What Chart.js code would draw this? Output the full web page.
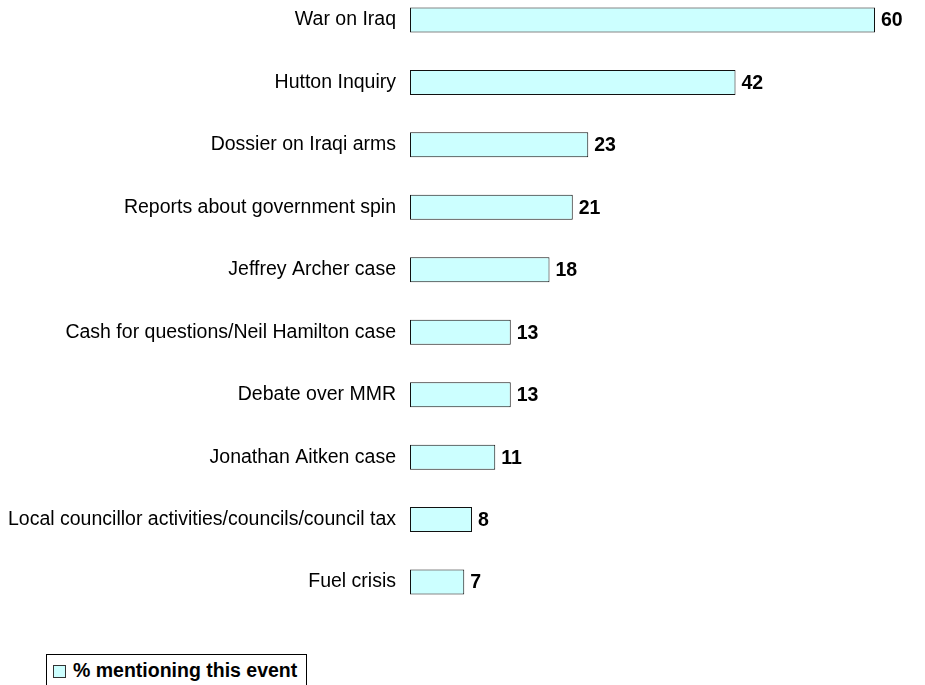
<!DOCTYPE html>
<html>
<head>
<meta charset="utf-8">
<script src="https://cdn.jsdelivr.net/npm/chart.js@4"></script>
<style>
  html, body { margin: 0; padding: 0; background: #fff; overflow: hidden; }
  body { width: 925px; height: 685px; position: relative; font-family: "Liberation Sans", Arial, sans-serif; }
  #wrap { position: absolute; left: 0; top: -37px; width: 925px; height: 676px; }
  #legend { position: absolute; left: 46px; top: 654px; width: 261px; height: 45px; border: 1px solid #000; box-sizing: border-box; }
  #legend .box { position: absolute; left: 6px; top: 10px; width: 13px; height: 13px; background: #CCFFFF; border: 1px solid #333; box-sizing: border-box; }
  #legend .txt { position: absolute; left: 26px; top: 5px; line-height: 20px; font-weight: bold; font-size: 19.5px; white-space: pre; color: #000; }
</style>
</head>
<body>
<div id="wrap"><canvas id="chart"></canvas></div>
<div id="legend"></div>
<script>
// 데이터
const categories = [
    'War on Iraq',
    'Hutton Inquiry',
    'Dossier on Iraqi arms',
    'Reports about government spin',
    'Jeffrey Archer case',
    'Cash for questions/Neil Hamilton case',
    'Debate over MMR',
    'Jonathan Aitken case',
    'Local councillor activities/councils/council tax',
    'Fuel crisis'
];
const mentionValues = [60, 42, 23, 21, 18, 13, 13, 11, 8, 7];
const seriesLabel = '% mentioning this event';

const FONT = '"Liberation Sans", Arial, sans-serif';

// 막대 끝에 값 표시
const valueLabels = {
    id: 'valueLabels',
    afterDatasetsDraw(chart) {
        const ctx = chart.ctx;
        const meta = chart.getDatasetMeta(0);
        ctx.save();
        ctx.font = 'bold 19.5px ' + FONT;
        ctx.fillStyle = '#000';
        ctx.textAlign = 'left';
        ctx.textBaseline = 'middle';
        meta.data.forEach((bar, i) => {
            ctx.fillText(String(mentionValues[i]), bar.x + 6, bar.y + 1);
        });
        ctx.restore();
    }
};

new Chart(document.getElementById('chart'), {
    type: 'bar',
    data: {
        labels: categories,
        datasets: [{
            label: seriesLabel,
            data: mentionValues,
            backgroundColor: '#CCFFFF',
            borderColor: '#111',
            borderWidth: 1,
            borderSkipped: false,
            categoryPercentage: 1,
            barPercentage: 0.4
        }]
    },
    options: {
        indexAxis: 'y',
        responsive: true,
        maintainAspectRatio: false,
        animation: false,
        layout: { padding: { top: 0, right: 50, bottom: 0, left: 0 } },
        plugins: {
            legend: { display: false },
            tooltip: { enabled: false }
        },
        scales: {
            x: {
                display: false,
                min: 0,
                max: 60
            },
            y: {
                grid: { display: false, drawTicks: false },
                border: { display: false },
                ticks: {
                    color: '#000',
                    padding: 14,
                    font: { family: FONT, size: 19.5 }
                },
                afterFit(scale) {
                    scale.width = 410;
                }
            }
        }
    },
    plugins: [valueLabels]
});

// 범례
const legend = document.getElementById('legend');
legend.innerHTML = '<div class="box"></div><div class="txt"></div>';
legend.querySelector('.txt').textContent = seriesLabel;
</script>
</body>
</html>
